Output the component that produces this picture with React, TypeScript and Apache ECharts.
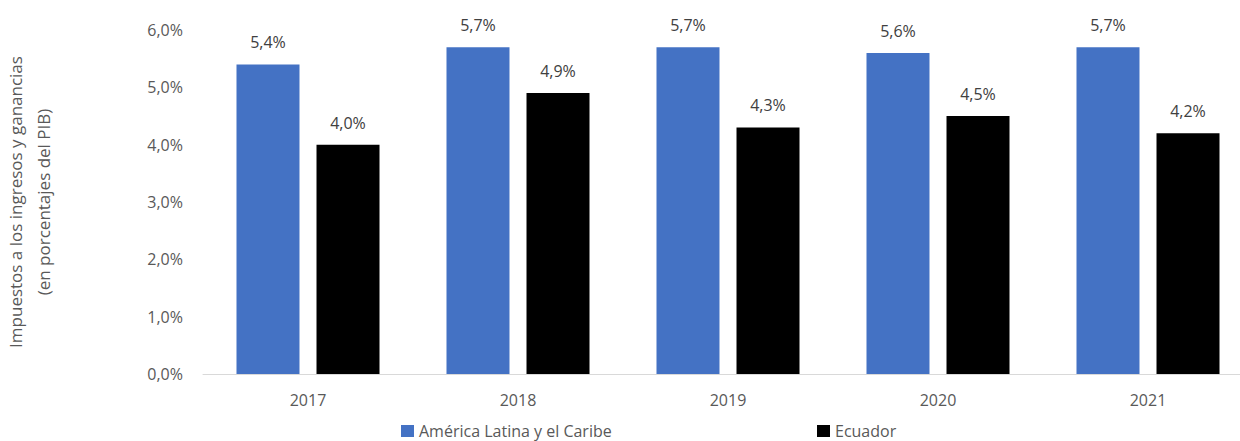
import React, { useEffect, useRef } from "react";
import * as echarts from "echarts";

const years = ["2017", "2018", "2019", "2020", "2021"];
const latam = [5.4, 5.7, 5.7, 5.6, 5.7];
const ecuador = [4.0, 4.9, 4.3, 4.5, 4.2];
const seriesNames = ["América Latina y el Caribe", "Ecuador"];
const yTitle = "Impuestos a los ingresos y ganancias\n(en porcentajes del PIB)";

const FONT = "Open Sans";
const TXT = "#595959";

export default function App() {
  const ref = useRef<HTMLDivElement>(null);
  useEffect(() => {
    const chart = echarts.init(ref.current!, null, { renderer: "svg" });
    const fmt = (v: number) => v.toFixed(1).replace(".", ",") + "%";
    const legendBase = {
      top: 423,
      itemWidth: 13,
      itemHeight: 12,
      itemGap: 5,
      icon: "rect",
      padding: 0,
      textStyle: { color: TXT, fontSize: 16, lineHeight: 16, fontFamily: FONT },
    };
    chart.setOption({
      animation: false,
      textStyle: { fontFamily: FONT },
      grid: { left: 203, right: -13, top: 30, bottom: 67, outerBoundsMode: "none", containLabel: false },
      legend: [
        { ...legendBase, data: [seriesNames[0]], left: 401 },
        { ...legendBase, data: [seriesNames[1]], left: 817 },
      ],
      xAxis: {
        type: "category",
        data: years,
        axisLine: { lineStyle: { color: "#d9d9d9", width: 1 } },
        axisTick: { show: false },
        axisLabel: { color: TXT, fontSize: 16, margin: 18, fontFamily: FONT },
      },
      yAxis: {
        type: "value",
        min: 0,
        max: 6,
        interval: 1,
        name: yTitle,
        nameLocation: "middle",
        nameGap: 146,
        nameTextStyle: { color: TXT, fontSize: 17, lineHeight: 28, fontFamily: FONT },
        splitLine: { show: false },
        axisLine: { show: false },
        axisLabel: {
          color: TXT,
          fontSize: 16,
          margin: 20,
          fontFamily: FONT,
          formatter: (v: number) => fmt(v),
        },
      },
      series: [
        {
          name: seriesNames[0],
          type: "bar",
          data: latam,
          barWidth: 63,
          barGap: "27%",
          itemStyle: { color: "#4472c4" },
          label: {
            show: true,
            position: "top",
            distance: 14,
            color: "#404040",
            fontSize: 16,
            fontFamily: FONT,
            formatter: (p: any) => fmt(p.value),
          },
        },
        {
          name: seriesNames[1],
          type: "bar",
          data: ecuador,
          barWidth: 63,
          itemStyle: { color: "#000000" },
          label: {
            show: true,
            position: "top",
            distance: 14,
            color: "#404040",
            fontSize: 16,
            fontFamily: FONT,
            formatter: (p: any) => fmt(p.value),
          },
        },
      ],
    });
    return () => chart.dispose();
  }, []);
  return <div ref={ref} style={{ width: 1240, height: 441, position: "absolute", left: 0, top: 0 }} />;
}
